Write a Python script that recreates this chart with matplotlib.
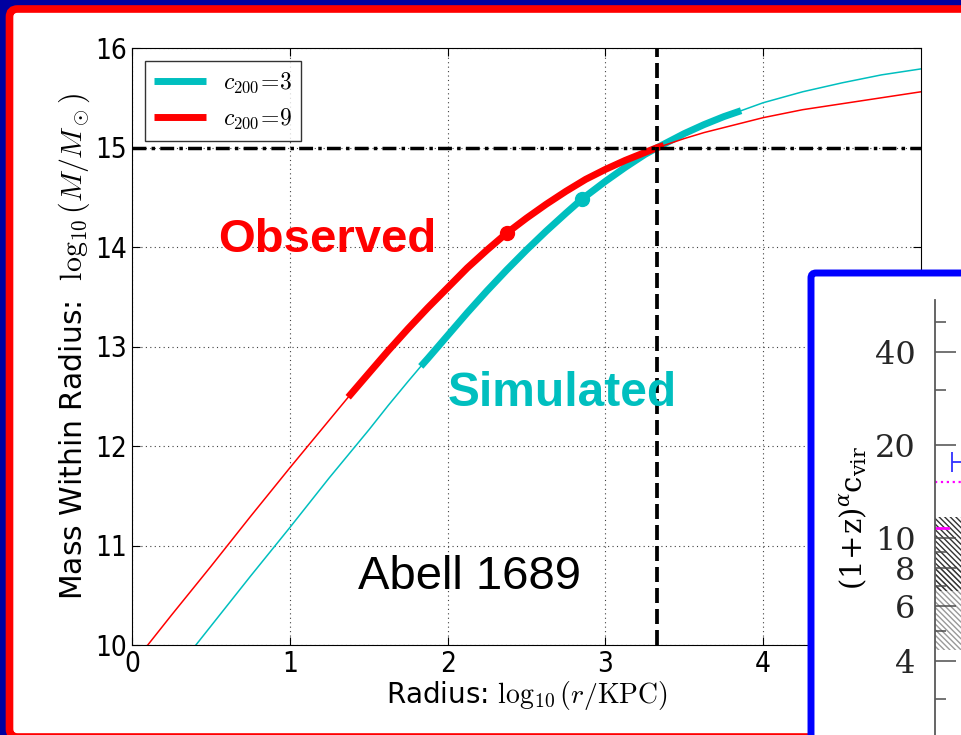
import matplotlib
matplotlib.use("Agg")
import matplotlib.pyplot as plt
from matplotlib.patches import FancyBboxPatch
from matplotlib.transforms import IdentityTransform
from matplotlib.ticker import FixedLocator, NullFormatter

# log10(r / KPC) and log10(M / Msun)
radius_c3 = [0.25, 0.40, 0.50, 0.75, 1.00, 1.25, 1.50, 1.625, 1.75, 1.83, 1.875, 2.00, 2.125, 2.25,
             2.375, 2.50, 2.625, 2.75, 2.85, 3.00, 3.125, 3.25, 3.33, 3.50, 3.625, 3.75, 3.86,
             4.00, 4.25, 4.50, 4.75, 5.00]
mass_c3 = [9.69, 9.99, 10.19, 10.69, 11.18, 11.68, 12.16, 12.41, 12.65, 12.80, 12.88, 13.11, 13.34, 13.56,
           13.77, 13.97, 14.16, 14.34, 14.48, 14.66, 14.80, 14.93, 15.00, 15.14, 15.23, 15.31, 15.37,
           15.45, 15.56, 15.65, 15.73, 15.79]

radius_c9 = [0.00, 0.25, 0.50, 0.75, 1.00, 1.25, 1.37, 1.50, 1.625, 1.75, 1.875, 2.00, 2.125, 2.25,
             2.375, 2.50, 2.625, 2.75, 2.875, 3.00, 3.125, 3.25, 3.33, 3.37, 3.50, 3.625, 3.75,
             3.875, 4.00, 4.25, 4.50, 4.75, 5.00]
mass_c9 = [9.80, 10.30, 10.79, 11.29, 11.78, 12.26, 12.49, 12.73, 12.96, 13.18, 13.39, 13.59, 13.79, 13.97,
           14.14, 14.29, 14.43, 14.56, 14.68, 14.78, 14.87, 14.95, 15.00, 15.02, 15.09, 15.15, 15.20,
           15.25, 15.30, 15.38, 15.44, 15.50, 15.56]

sim_range = (1.83, 3.86)   # thick part of the c200=3 curve
obs_range = (1.37, 3.37)   # thick part of the c200=9 curve
sim_dot = (2.85, 14.48)
obs_dot = (2.375, 14.14)
r200_log = 3.33
m200_log = 15.0

x_ticks = [0, 1, 2, 3, 4]
y_ticks = [10, 11, 12, 13, 14, 15, 16]

# small pasted figure, lower right
cvir_major = [4, 6, 8, 10, 20, 40]
cvir_minor = [3, 5, 7, 9, 30, 50]
band_dark = (6.74, 11.7)
band_light = (4.34, 8.1)
blue_point = 17.6
magenta_dotted = 15.2
magenta_solid = 10.8

CYAN = (0.0, 0.75, 0.75)
RED = (1.0, 0.0, 0.0)

plt.rcParams["mathtext.fontset"] = "cm"
plt.rcParams["font.family"] = ["DejaVu Sans"]
plt.rcParams["hatch.linewidth"] = 1.0

fig = plt.figure(figsize=(9.61, 7.35), dpi=100)
fig.patch.set_facecolor("#0000a0")

# slide frame (pixel coords, origin bottom left)
frame = FancyBboxPatch((9.5, -2), 970, 728, boxstyle="round,pad=0,rounding_size=8",
                       transform=IdentityTransform(), fc="white", ec="red", lw=5.5, zorder=-1)
fig.add_artist(frame)

ax = fig.add_axes([132 / 961, 1 - 645 / 735, 789 / 961, 597 / 735])

i3 = [i for i, r in enumerate(radius_c3) if sim_range[0] <= r <= sim_range[1]]
i9 = [i for i, r in enumerate(radius_c9) if obs_range[0] <= r <= obs_range[1]]

ax.plot(radius_c3, mass_c3, color=CYAN, lw=1.1)
ax.plot([radius_c3[i] for i in i3], [mass_c3[i] for i in i3], color=CYAN, lw=5,
        solid_capstyle="butt", solid_joinstyle="round", label=r"$c_{200}\!=\!3$")
ax.plot(radius_c9, mass_c9, color=RED, lw=1.1)
ax.plot([radius_c9[i] for i in i9], [mass_c9[i] for i in i9], color=RED, lw=5,
        solid_capstyle="butt", solid_joinstyle="round", label=r"$c_{200}\!=\!9$")
ax.plot(*sim_dot, "o", color=CYAN, ms=10)
ax.plot(*obs_dot, "o", color=RED, ms=10)

ax.axvline(r200_log, color="k", lw=2.7, dashes=(4, 1.6))
ax.axhline(m200_log, color="k", lw=2.5, dashes=(4, 1.5, 1, 1.5))

ax.set_xlim(0, 5)
ax.set_ylim(10, 16)
ax.set_xticks(x_ticks)
ax.set_yticks(y_ticks)
ax.grid(True, color="0.25", lw=0.8, dashes=(1, 3))
ax.tick_params(direction="in", top=True, right=True, length=6, labelsize=20)
for lab in ax.get_xticklabels() + ax.get_yticklabels():
    lab.set_fontstretch("condensed")
ax.set_xlabel(r"Radius: $\log_{10}(r/\mathrm{KPC})$", fontsize=20, labelpad=1)
ax.set_ylabel(r"Mass Within Radius:  $\log_{10}(M/M_\odot)$", fontsize=21.5, labelpad=2)

leg = ax.legend(loc="upper left", fontsize=17, handlelength=2.2, fancybox=False,
                borderaxespad=0.55, labelspacing=0.45, handletextpad=0.7)
leg.get_frame().set_edgecolor("k")
leg.get_frame().set_linewidth(1.0)

ax.text(0.546, 14.07, "Observed", color=RED, fontsize=34, fontweight="bold",
        family="Liberation Sans", ha="left", va="center")
ax.text(2.0, 12.53, "Simulated", color=CYAN, fontsize=34.5, fontweight="bold",
        family="Liberation Sans", ha="left", va="center")
ax.text(1.43, 10.68, "Abell 1689", color="k", fontsize=34,
        family="Liberation Sans", ha="left", va="center")

# pasted inset with blue frame
box = FancyBboxPatch((811, -30), 220, 492, boxstyle="round,pad=0,rounding_size=5",
                     transform=IdentityTransform(), fc="white", ec="#0000ff", lw=5, zorder=3)
fig.add_artist(box)

ins = fig.add_axes([935 / 961, 0, 200 / 961, 435 / 735], zorder=4)
ins.patch.set_alpha(0)
ins.set_yscale("log")
ins.set_xlim(0, 200)
ins.set_ylim(2.30, 58.9)
for s in ["top", "right", "bottom"]:
    ins.spines[s].set_visible(False)
ins.spines["left"].set_color("0.35")
ins.spines["left"].set_linewidth(1.3)
ins.set_xticks([])
ins.yaxis.set_major_locator(FixedLocator(cvir_major))
ins.yaxis.set_minor_locator(FixedLocator(cvir_minor))
ins.yaxis.set_major_formatter(plt.FuncFormatter(lambda v, p: f"{v:g}"))
ins.yaxis.set_minor_formatter(NullFormatter())
ins.tick_params(axis="y", which="major", direction="in", length=15, width=1.1, color="0.3",
                labelsize=23, labelfontfamily="DejaVu Serif", labelcolor="0.15", pad=14)
ins.tick_params(axis="y", which="minor", direction="in", length=8, width=1.1, color="0.3")

ins.axhspan(band_light[0], band_light[1], fc="none", ec="0.6", hatch="\\\\\\\\\\\\", lw=0)
ins.axhspan(band_dark[0], band_dark[1], fc="none", ec="0.2", hatch="\\\\\\\\\\\\", lw=0)
ins.plot([0, 200], [magenta_dotted] * 2, color="magenta", ls=":", lw=1.6)
ins.plot([0, 13], [magenta_solid] * 2, color="magenta", lw=2)
ins.errorbar([60], [blue_point], xerr=[[43], [0]], fmt="none", ecolor="#3030ff",
             capsize=7, elinewidth=1.3, capthick=1.3)

ins.set_ylabel(r"$\mathrm{(1\!+\!z)}^{\alpha}\mathrm{c}_{\mathrm{vir}}$", fontsize=21,
               math_fontfamily="dejavuserif", labelpad=4)

fig.savefig("out.png", dpi=100, facecolor=fig.get_facecolor())
